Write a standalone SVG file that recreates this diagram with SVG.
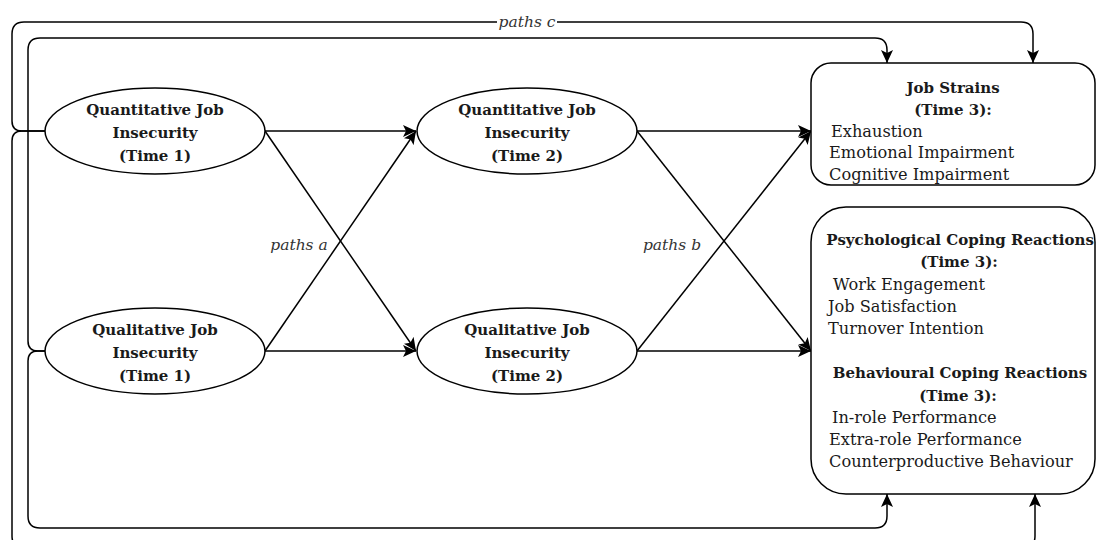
<svg xmlns="http://www.w3.org/2000/svg" width="1097" height="540" viewBox="0 0 1097 540">
<style>
.shape{fill:#fff;stroke:#000;stroke-width:1.5}
.ln{fill:none;stroke:#000;stroke-width:1.5}
.b{font-family:"DejaVu Serif","Liberation Serif",serif;font-weight:bold;font-size:15px;fill:#1a1a1a;text-anchor:middle}
.r{font-family:"DejaVu Serif","Liberation Serif",serif;font-size:16.2px;fill:#1a1a1a}
.i{font-family:"DejaVu Serif","Liberation Serif",serif;font-style:italic;font-size:15.5px;fill:#333;text-anchor:middle}
</style>
<defs>
<marker id="arr" markerUnits="userSpaceOnUse" markerWidth="14" markerHeight="12" refX="13" refY="6" orient="auto">
<path d="M0,0 L13,6 L0,12 L3,6 Z" fill="#000"/>
</marker>
</defs>
<g id="connectors">
<path class="ln" d="M45,131 H22 Q12,131 12,121 V34 Q12,22 24,22 H1021 Q1033,22 1033,34 V63" marker-end="url(#arr)"/>
<path class="ln" d="M45,131 H22 Q12,131 12,141 V536 Q12,548 24,548 H1023 Q1035,548 1035,536 V494" marker-end="url(#arr)"/>
<path class="ln" d="M45,351 H38 Q28,351 28,341 V50 Q28,38 40,38 H875 Q887,38 887,50 V63" marker-end="url(#arr)"/>
<path class="ln" d="M45,351 H38 Q28,351 28,361 V516 Q28,528 40,528 H875 Q887,528 887,516 V494" marker-end="url(#arr)"/>
<line class="ln" x1="265" y1="131" x2="416" y2="131" marker-end="url(#arr)"/>
<line class="ln" x1="265" y1="131" x2="416" y2="351" marker-end="url(#arr)"/>
<line class="ln" x1="265" y1="351" x2="416" y2="131" marker-end="url(#arr)"/>
<line class="ln" x1="265" y1="351" x2="416" y2="351" marker-end="url(#arr)"/>
<line class="ln" x1="637" y1="131" x2="811" y2="131" marker-end="url(#arr)"/>
<line class="ln" x1="637" y1="131" x2="811" y2="351" marker-end="url(#arr)"/>
<line class="ln" x1="637" y1="351" x2="811" y2="131" marker-end="url(#arr)"/>
<line class="ln" x1="637" y1="351" x2="811" y2="351" marker-end="url(#arr)"/>
<rect x="497" y="12" width="60" height="20" fill="#fff"/>
<text class="i" x="527" y="27">paths c</text>
<text class="i" x="299" y="250">paths a</text>
<text class="i" x="672" y="250">paths b</text>
</g>
<g id="qn1">
<ellipse class="shape" cx="155" cy="131" rx="110" ry="43"/>
<text class="b" x="155" y="115">Quantitative Job</text>
<text class="b" x="155" y="138">Insecurity</text>
<text class="b" x="155" y="161">(Time 1)</text>
</g>
<g id="ql1">
<ellipse class="shape" cx="155" cy="351" rx="110" ry="43"/>
<text class="b" x="155" y="335">Qualitative Job</text>
<text class="b" x="155" y="358">Insecurity</text>
<text class="b" x="155" y="381">(Time 1)</text>
</g>
<g id="qn2">
<ellipse class="shape" cx="527" cy="131" rx="110" ry="43"/>
<text class="b" x="527" y="115">Quantitative Job</text>
<text class="b" x="527" y="138">Insecurity</text>
<text class="b" x="527" y="161">(Time 2)</text>
</g>
<g id="ql2">
<ellipse class="shape" cx="527" cy="351" rx="110" ry="43"/>
<text class="b" x="527" y="335">Qualitative Job</text>
<text class="b" x="527" y="358">Insecurity</text>
<text class="b" x="527" y="381">(Time 2)</text>
</g>
<g id="strains">
<rect class="shape" x="811" y="63" width="284" height="122" rx="20"/>
<text class="b" x="953" y="93">Job Strains</text>
<text class="b" x="953" y="115">(Time 3):</text>
<text class="r" x="831" y="137">Exhaustion</text>
<text class="r" x="829" y="158">Emotional Impairment</text>
<text class="r" x="829" y="180">Cognitive Impairment</text>
</g>
<g id="coping">
<rect class="shape" x="811" y="207" width="284" height="287" rx="35"/>
<text class="b" x="960" y="245">Psychological Coping Reactions</text>
<text class="b" x="959" y="267">(Time 3):</text>
<text class="r" x="833" y="290">Work Engagement</text>
<text class="r" x="828" y="312">Job Satisfaction</text>
<text class="r" x="828" y="334">Turnover Intention</text>
<text class="b" x="960" y="378">Behavioural Coping Reactions</text>
<text class="b" x="958" y="401">(Time 3):</text>
<text class="r" x="832" y="423">In-role Performance</text>
<text class="r" x="829" y="445">Extra-role Performance</text>
<text class="r" x="829" y="467">Counterproductive Behaviour</text>
</g>
</svg>
